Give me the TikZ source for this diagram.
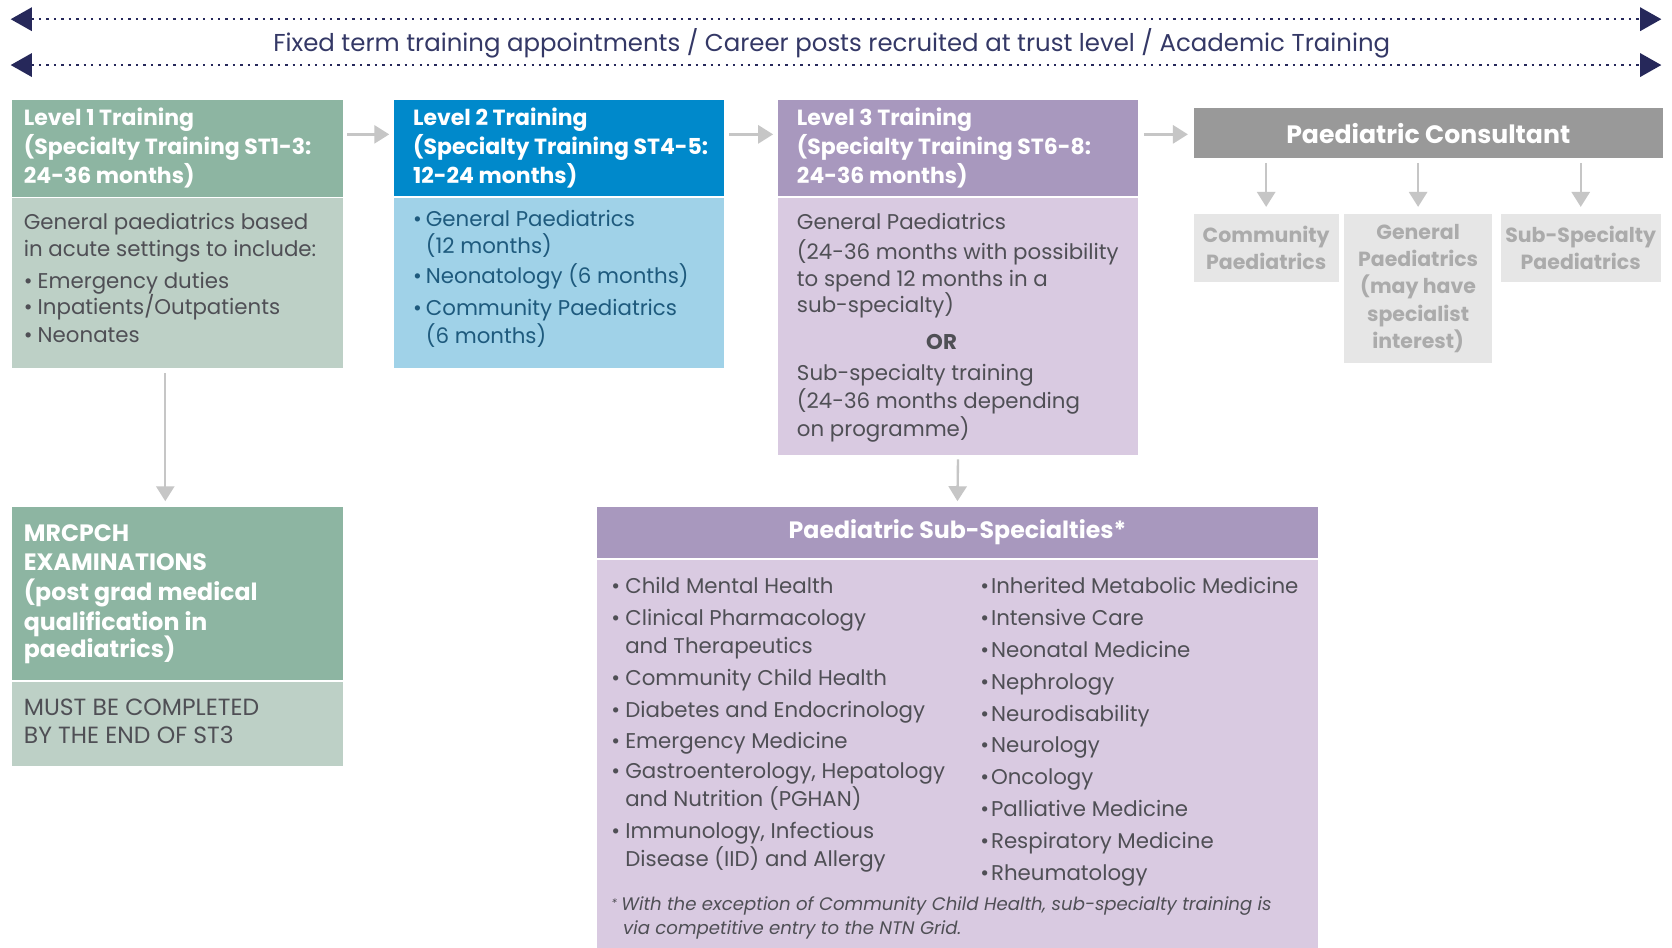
\documentclass[tikz,border=0pt]{standalone}
\usepackage{fontspec}
\setmainfont{Poppins}
\usetikzlibrary{arrows.meta,calc}
\definecolor{greenH}{HTML}{8DB5A2}
\definecolor{greenB}{HTML}{BDD0C6}
\definecolor{blueH}{HTML}{0089CB}
\definecolor{blueB}{HTML}{A0D2E8}
\definecolor{purpH}{HTML}{A898BE}
\definecolor{purpB}{HTML}{D9CAE1}
\definecolor{grayH}{HTML}{999999}
\definecolor{grayB}{HTML}{E6E6E6}
\definecolor{grayT}{HTML}{ABABAB}
\definecolor{arrowgray}{HTML}{C6C6C6}
\definecolor{navy}{HTML}{26285A}
\definecolor{toptext}{HTML}{343866}
\definecolor{bodygray}{HTML}{4F4F55}
\definecolor{bluetext}{HTML}{1E5A7D}
\begin{document}
\begin{tikzpicture}[x=0.5pt,y=-0.5pt,
  boxx/.style={rectangle, draw=none, inner sep=0pt, anchor=north west},
  garrow/.style={draw=arrowgray, line width=1.1pt, -{Triangle[length=7pt,width=8.5pt]}},
  toparrow/.style={draw=navy, line width=1.1pt, dash pattern=on 1.1pt off 2.4pt,
     {Triangle[length=10pt,width=11pt]}-{Triangle[length=10pt,width=11pt]}},
  hdr/.style={font=\bfseries\fontsize{10.3}{12}\selectfont, text=white, inner sep=0pt, anchor=base west, yshift=-1pt},
  bighdr/.style={font=\bfseries\fontsize{11.1}{13}\selectfont, text=white, inner sep=0pt, anchor=base west, yshift=-1pt},
  body/.style={font=\fontsize{10}{12}\selectfont, text=bodygray, inner sep=0pt, anchor=base west, yshift=-1pt},
  bbody/.style={body, text=bluetext},
  sub/.style={font=\fontsize{10}{12}\selectfont, text=bodygray, inner sep=0pt, anchor=base west, yshift=-1.2pt},
  foot/.style={font=\itshape\fontsize{8.5}{10}\selectfont, text=bodygray, inner sep=0pt, anchor=base west, yshift=-1pt},
  graybox/.style={boxx, fill=grayB, align=center, text=grayT, font=\bfseries\fontsize{9.6}{12.8}\selectfont},
]
\useasboundingbox (0,0) rectangle (1568,889);
\fill[white] (0,0) rectangle (1568,889);

% top arrows
\coordinate (tl1) at (10,18);
\coordinate (tr1) at (1558,18);
\coordinate (tl2) at (10,61);
\coordinate (tr2) at (1558,61);
\draw[toparrow] (tl1) -- (tr1);
\draw[toparrow] (tl2) -- (tr2);
\node[font=\fontsize{11.45}{13}\selectfont, text=toptext, inner sep=0pt, anchor=base] (toptxt) at (780,48)
  {Fixed term training appointments / Career posts recruited at trust level / Academic Training};

% boxes
\node[boxx, fill=greenH, minimum width=155pt, minimum height=45.5pt] (l1h) at (11,93) {};
\node[boxx, fill=greenB, minimum width=155pt, minimum height=80pt] (l1b) at (11,185) {};
\node[boxx, fill=blueH, minimum width=155pt, minimum height=45pt] (l2h) at (369,93) {};
\node[boxx, fill=blueB, minimum width=155pt, minimum height=80pt] (l2b) at (369,185) {};
\node[boxx, fill=purpH, minimum width=169pt, minimum height=45pt] (l3h) at (729,93) {};
\node[boxx, fill=purpB, minimum width=169pt, minimum height=120.5pt] (l3b) at (729,185) {};
\node[boxx, fill=grayH, minimum width=220pt, minimum height=23.5pt,
      font=\bfseries\fontsize{11.8}{13}\selectfont, text=white] (cons) at (1119,101) {Paediatric Consultant};
\node[graybox, minimum width=68pt, minimum height=32pt] (c1) at (1119,200) {Community\\Paediatrics};
\node[graybox, minimum width=69.5pt, minimum height=70pt] (c2) at (1260,200) {General\\Paediatrics\\(may have\\specialist\\interest)};
\node[graybox, minimum width=75pt, minimum height=32pt] (c3) at (1407,200) {Sub-Specialty\\Paediatrics};
\node[boxx, fill=greenH, minimum width=155pt, minimum height=81pt] (mh) at (11,475) {};
\node[boxx, fill=greenB, minimum width=155pt, minimum height=39.5pt] (mb) at (11,639) {};
\node[boxx, fill=purpH, minimum width=338.5pt, minimum height=24pt,
      font=\bfseries\fontsize{11.1}{13}\selectfont, text=white] (sh) at (559,475) {Paediatric Sub-Specialties*};
\node[boxx, fill=purpB, minimum width=338.5pt, minimum height=182pt] (sb) at (559,525) {};

% connectors
\draw[garrow] ($(l1h.north east)+(4,33)$) -- ($(l2h.north west)+(-4,33)$);
\draw[garrow] ($(l2h.north east)+(4,33)$) -- ($(l3h.north west)+(-4,33)$);
\draw[garrow] ($(l3h.north east)+(5,33)$) -- ($(cons.north west)+(-5,25)$);
\draw[garrow] ($(cons.south -| c1.north)+(0,4)$) -- ($(c1.north)+(0,-6)$);
\draw[garrow] ($(cons.south -| c2.north)+(0,4)$) -- ($(c2.north)+(0,-6)$);
\draw[garrow] ($(cons.south -| c3.north)+(0,4)$) -- ($(c3.north)+(0,-6)$);
\draw[garrow] ($(l1b.south west)+(144,4)$) -- ($(mh.north west)+(144,-5)$);
\draw[garrow] ($(l3b.south)+(0,4)$) -- ($(sh.north)+(0,-5)$);

% Level 1 text
\node[hdr] (l1t1) at (22,116) {Level 1 Training};
\node[hdr] (l1t2) at (22,143) {(Specialty Training ST1-3:};
\node[hdr] (l1t3) at (22,170) {24-36 months)};
\node[body] (l1b1) at (22,213) {General paediatrics based};
\node[body] (l1b2) at (22,239) {in acute settings to include:};
\node[body] (l1b3) at (22,269) {\makebox[6.5pt][l]{\textbullet}Emergency duties};
\node[body] (l1b4) at (22,293) {\makebox[6.5pt][l]{\textbullet}Inpatients/Outpatients};
\node[body] (l1b5) at (22,319) {\makebox[6.5pt][l]{\textbullet}Neonates};

% Level 2 text
\node[hdr] (l2t1) at (387,116) {Level 2 Training};
\node[hdr] (l2t2) at (387,143) {(Specialty Training ST4-5:};
\node[hdr] (l2t3) at (387,170) {12-24 months)};
\node[bbody] (l2b1) at (387,210) {\makebox[6pt][l]{\textbullet}General Paediatrics};
\node[bbody] (l2b2) at (399,236) {(12 months)};
\node[bbody] (l2b3) at (387,264) {\makebox[6pt][l]{\textbullet}Neonatology (6 months)};
\node[bbody] (l2b4) at (387,294) {\makebox[6pt][l]{\textbullet}Community Paediatrics};
\node[bbody] (l2b5) at (399,320) {(6 months)};

% Level 3 text
\node[hdr] (l3t1) at (747,116) {Level 3 Training};
\node[hdr] (l3t2) at (747,143) {(Specialty Training ST6-8:};
\node[hdr] (l3t3) at (747,170) {24-36 months)};
\node[body] (l3b1) at (747,213) {General Paediatrics};
\node[body] (l3b2) at (747,241) {(24-36 months with possibility};
\node[body] (l3b3) at (747,267) {to spend 12 months in a};
\node[body] (l3b4) at (747,291) {sub-specialty)};
\node[body, anchor=base, font=\bfseries\fontsize{10}{12}\selectfont] (l3or) at (883,326) {OR};
\node[body] (l3b5) at (747,355) {Sub-specialty training};
\node[body] (l3b6) at (747,381) {(24-36 months depending};
\node[body] (l3b7) at (747,407) {on programme)};

% MRCPCH text
\node[bighdr] (m1) at (22,506) {MRCPCH};
\node[bighdr] (m2) at (22,533) {EXAMINATIONS};
\node[bighdr] (m3) at (22,561) {(post grad medical};
\node[bighdr] (m4) at (22,589) {qualification in};
\node[bighdr] (m5) at (22,615) {paediatrics)};
\node[body, font=\fontsize{11}{13}\selectfont] (m6) at (22,669) {MUST BE COMPLETED};
\node[body, font=\fontsize{11}{13}\selectfont] (m7) at (22,695) {BY THE END OF ST3};

% Sub-specialty lists
\node[sub] (sa1) at (573,554) {\makebox[6.5pt][l]{\textbullet}Child Mental Health};
\node[sub] (sa2) at (573,584) {\makebox[6.5pt][l]{\textbullet}Clinical Pharmacology};
\node[sub] (sa3) at (586,610) {and Therapeutics};
\node[sub] (sa4) at (573,640) {\makebox[6.5pt][l]{\textbullet}Community Child Health};
\node[sub] (sa5) at (573,670) {\makebox[6.5pt][l]{\textbullet}Diabetes and Endocrinology};
\node[sub] (sa6) at (573,700) {\makebox[6.5pt][l]{\textbullet}Emergency Medicine};
\node[sub] (sa7) at (573,728) {\makebox[6.5pt][l]{\textbullet}Gastroenterology, Hepatology};
\node[sub] (sa8) at (586,754) {and Nutrition (PGHAN)};
\node[sub] (sa9) at (573,784) {\makebox[6.5pt][l]{\textbullet}Immunology, Infectious};
\node[sub] (sa10) at (586,810) {Disease (IID) and Allergy};

\node[sub] (sb1) at (919,554) {\makebox[5pt][l]{\textbullet}Inherited Metabolic Medicine};
\node[sub] (sb2) at (919,584) {\makebox[5pt][l]{\textbullet}Intensive Care};
\node[sub] (sb3) at (919,614) {\makebox[5pt][l]{\textbullet}Neonatal Medicine};
\node[sub] (sb4) at (919,644) {\makebox[5pt][l]{\textbullet}Nephrology};
\node[sub] (sb5) at (919,674) {\makebox[5pt][l]{\textbullet}Neurodisability};
\node[sub] (sb6) at (919,703) {\makebox[5pt][l]{\textbullet}Neurology};
\node[sub] (sb7) at (919,733) {\makebox[5pt][l]{\textbullet}Oncology};
\node[sub] (sb8) at (919,763) {\makebox[5pt][l]{\textbullet}Palliative Medicine};
\node[sub] (sb9) at (919,793) {\makebox[5pt][l]{\textbullet}Respiratory Medicine};
\node[sub] (sb10) at (919,823) {\makebox[5pt][l]{\textbullet}Rheumatology};

\node[foot] (f1) at (573,852) {\raisebox{1.5pt}{\fontsize{5.5}{6}\selectfont*}\hspace{2pt}With the exception of Community Child Health, sub-specialty training is};
\node[foot] (f2) at (584,874) {via competitive entry to the NTN Grid.};
\end{tikzpicture}
\end{document}
